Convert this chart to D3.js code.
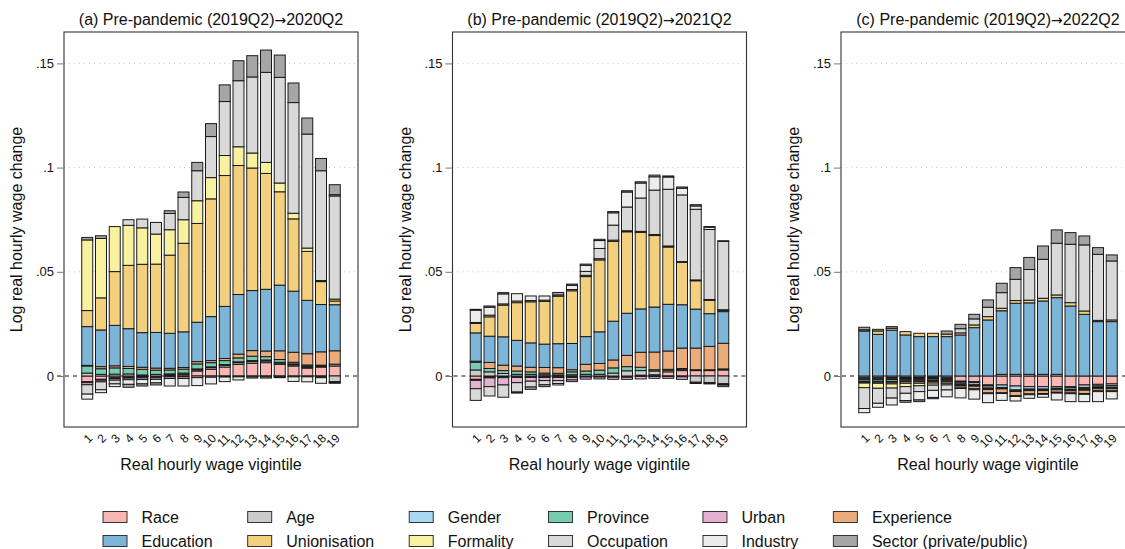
<!DOCTYPE html>
<html>
<head>
<meta charset="utf-8">
<script src="https://cdn.jsdelivr.net/npm/d3@7"></script>
<style>
  html, body { margin: 0; padding: 0; background: #fff; }
  svg { display: block; font-family: "Liberation Sans", Arial, Helvetica, sans-serif; }
</style>
</head>
<body>
<svg id="chart" width="1125" height="549"></svg>
<script>
// Vigintiles on the x axis
const vigintiles = d3.range(1, 20);
const yTicks = [0, 0.05, 0.1, 0.15];
const yTickLabels = ["0", ".05", ".1", ".15"];

// Panel titles: [label, start period, end period]
const panelTitles = [
  ["(a) Pre-pandemic (2019Q2)", "2020Q2"],
  ["(b) Pre-pandemic (2019Q2)", "2021Q2"],
  ["(c) Pre-pandemic (2019Q2)", "2022Q2"]
];

// Components of the decomposition, in stacking order
const components = ["Race", "Age", "Gender", "Province", "Urban", "Experience",
                    "Education", "Unionisation", "Formality", "Occupation", "Industry", "Sector (private/public)"];
const componentColors = ["#f9b6b3", "#cbcbcb", "#aad7f1", "#78cbae", "#e2b2d0", "#ebab7a",
                         "#7db5d8", "#f2d07e", "#f8f1a0", "#d9d9d9", "#ececec", "#a6a6a6"];
// Legend is laid out in columns of two
const legendOrder = ["Race", "Education", "Age", "Unionisation", "Gender", "Formality",
                     "Province", "Occupation", "Urban", "Industry", "Experience", "Sector (private/public)"];

// ---- (a) 2019Q2 -> 2020Q2 ----
const aRace       = [-0.0027,-0.0016,-0.0008,-0.0006,-0.0005,-0.0004,0.0005,0.0008,0.0024,0.0032,0.0043,0.0056,0.0061,0.0064,0.0056,0.0048,0.0038,0.0043,0.0048];
const aAge        = [0.0014,0.0008,0.0009,0.0010,0.0005,0.0008,0.0005,0.0006,0.0006,0.0008,0.0008,0.0008,0.0008,0.0008,0.0006,0.0006,0.0005,0.0005,-0.0027];
const aGender     = [-0.0005,-0.0004,-0.0004,-0.0004,-0.0004,-0.0004,-0.0004,-0.0004,0.0004,0.0004,0.0004,0.0004,0.0005,0.0005,0.0004,0.0004,0.0004,-0.0004,-0.0004];
const aProvince   = [0.0034,0.0027,0.0030,0.0026,0.0027,0.0020,0.0019,0.0019,0.0024,0.0020,0.0019,0.0019,0.0021,0.0016,0.0013,0.0008,0.0006,0.0004,0.0009];
const aUrban      = [-0.0010,-0.0008,-0.0008,-0.0008,-0.0008,-0.0008,-0.0008,-0.0008,-0.0008,-0.0006,-0.0005,-0.0004,-0.0004,-0.0004,-0.0004,-0.0004,-0.0004,-0.0004,-0.0004];
const aExperience = [0.0003,0.0010,0.0010,0.0010,0.0010,0.0010,0.0008,0.0008,0.0011,0.0010,0.0010,0.0018,0.0027,0.0027,0.0042,0.0048,0.0054,0.0064,0.0064];
const aEducation  = [0.0186,0.0176,0.0194,0.0181,0.0166,0.0171,0.0168,0.0171,0.0189,0.0211,0.0250,0.0286,0.0288,0.0296,0.0315,0.0293,0.0256,0.0227,0.0221];
const aUnion      = [0.0077,0.0154,0.0258,0.0304,0.0328,0.0328,0.0375,0.0425,0.0474,0.0565,0.0628,0.0619,0.0588,0.0556,0.0448,0.0347,0.0235,0.0110,0.0018];
const aFormality  = [0.0339,0.0285,0.0216,0.0192,0.0175,0.0144,0.0122,0.0113,0.0109,0.0102,0.0096,0.0090,0.0072,0.0053,0.0042,0.0027,0.0016,0.0005,0.0009];
const aOccupation = [-0.0045,-0.0038,-0.0018,0.0027,0.0042,0.0056,0.0078,0.0107,0.0144,0.0197,0.0259,0.0317,0.0365,0.0432,0.0507,0.0531,0.0547,0.0527,0.0495];
const aIndustry   = [-0.0024,-0.0014,-0.0013,-0.0022,-0.0021,-0.0017,-0.0036,-0.0036,-0.0038,-0.0032,-0.0022,-0.0015,-0.0006,-0.0006,-0.0004,-0.0022,-0.0024,-0.0027,0.0006];
const aSector     = [0.0012,0.0013,0.0000,-0.0014,-0.0010,-0.0010,0.0013,0.0026,0.0040,0.0062,0.0080,0.0096,0.0102,0.0107,0.0107,0.0094,0.0077,0.0059,0.0048];

// ---- (b) 2019Q2 -> 2021Q2 ----
const bRace       = [-0.0016,-0.0005,-0.0005,-0.0004,-0.0004,-0.0004,-0.0004,-0.0004,-0.0003,-0.0003,-0.0003,-0.0003,0.0004,0.0006,0.0020,0.0026,0.0026,0.0026,0.0029];
const bAge        = [0.0029,0.0020,0.0012,0.0008,0.0008,0.0006,0.0005,0.0006,0.0008,0.0008,0.0014,0.0025,0.0022,0.0018,0.0008,0.0006,-0.0030,-0.0032,-0.0037];
const bGender     = [-0.0005,-0.0004,-0.0003,-0.0003,-0.0003,-0.0003,-0.0003,-0.0003,-0.0002,-0.0002,-0.0003,-0.0003,-0.0002,-0.0002,-0.0002,-0.0004,-0.0002,-0.0002,-0.0003];
const bProvince   = [0.0037,0.0016,0.0014,0.0016,0.0012,0.0008,0.0008,0.0014,0.0016,0.0020,0.0025,0.0020,0.0016,0.0006,0.0004,0.0004,0.0004,0.0004,0.0005];
const bUrban      = [-0.0040,-0.0042,-0.0035,-0.0025,-0.0018,-0.0015,-0.0015,-0.0012,-0.0010,-0.0009,-0.0010,-0.0010,-0.0012,-0.0009,-0.0009,-0.0012,-0.0004,-0.0004,-0.0004];
const bExperience = [0.0005,0.0029,0.0026,0.0024,0.0022,0.0027,0.0027,0.0010,0.0032,0.0032,0.0038,0.0054,0.0072,0.0085,0.0088,0.0098,0.0104,0.0112,0.0123];
const bEducation  = [0.0136,0.0126,0.0136,0.0123,0.0117,0.0112,0.0115,0.0126,0.0133,0.0152,0.0186,0.0202,0.0208,0.0216,0.0224,0.0208,0.0187,0.0157,0.0152];
const bUnion      = [0.0045,0.0093,0.0152,0.0181,0.0197,0.0205,0.0228,0.0253,0.0288,0.0345,0.0383,0.0391,0.0367,0.0343,0.0275,0.0203,0.0136,0.0064,0.0006];
const bFormality  = [0.0005,0.0008,0.0006,0.0008,0.0006,0.0006,0.0006,0.0006,0.0006,0.0006,0.0006,0.0005,0.0005,0.0005,0.0005,0.0004,0.0004,0.0004,0.0003];
const bOccupation = [-0.0056,-0.0045,-0.0059,-0.0045,-0.0028,-0.0020,-0.0014,-0.0008,0.0019,0.0049,0.0072,0.0114,0.0160,0.0213,0.0272,0.0320,0.0339,0.0336,0.0328];
const bIndustry   = [0.0059,0.0038,0.0048,0.0035,0.0022,0.0020,-0.0007,0.0020,0.0029,0.0038,0.0059,0.0072,0.0072,0.0064,0.0059,0.0032,0.0016,0.0011,-0.0007];
const bSector     = [0.0004,0.0006,0.0006,-0.0005,-0.0011,-0.0009,0.0012,0.0006,0.0006,0.0006,0.0006,0.0006,0.0006,0.0008,0.0005,0.0006,0.0006,0.0003,0.0003];

// ---- (c) 2019Q2 -> 2022Q2 ----
const cRace       = [-0.0008,-0.0008,-0.0007,-0.0007,-0.0007,-0.0006,-0.0008,-0.0025,-0.0027,-0.0043,-0.0043,-0.0048,-0.0051,-0.0051,-0.0051,-0.0051,-0.0043,-0.0040,-0.0038];
const cAge        = [-0.0006,-0.0006,-0.0006,-0.0005,-0.0005,-0.0005,-0.0005,-0.0005,-0.0005,-0.0005,0.0008,0.0008,0.0008,0.0008,0.0008,-0.0005,-0.0012,-0.0008,-0.0008];
const cGender     = [-0.0004,-0.0004,-0.0004,-0.0004,-0.0004,-0.0004,-0.0004,-0.0008,-0.0010,-0.0010,-0.0012,-0.0019,-0.0012,-0.0012,-0.0008,-0.0008,-0.0006,-0.0006,-0.0008];
const cProvince   = [-0.0008,-0.0008,-0.0009,-0.0007,-0.0007,-0.0007,-0.0006,-0.0005,-0.0004,-0.0004,-0.0004,-0.0004,-0.0004,-0.0004,-0.0004,-0.0004,-0.0004,-0.0004,-0.0004];
const cUrban      = [-0.0003,-0.0003,-0.0004,-0.0004,-0.0004,-0.0004,-0.0004,-0.0003,-0.0003,-0.0003,-0.0003,-0.0003,-0.0003,-0.0003,-0.0003,-0.0003,-0.0003,-0.0003,-0.0003];
const cExperience = [-0.0005,-0.0006,-0.0008,-0.0008,-0.0008,-0.0008,-0.0008,-0.0008,-0.0012,-0.0016,-0.0018,-0.0020,-0.0016,-0.0014,-0.0012,-0.0010,-0.0016,-0.0010,-0.0010];
const cEducation  = [0.0216,0.0200,0.0220,0.0197,0.0189,0.0189,0.0189,0.0197,0.0232,0.0269,0.0305,0.0341,0.0343,0.0352,0.0368,0.0336,0.0296,0.0261,0.0261];
const cUnion      = [0.0006,0.0016,0.0009,0.0016,0.0016,0.0016,0.0012,0.0010,0.0013,0.0016,0.0012,0.0013,0.0013,0.0013,0.0013,0.0016,0.0016,0.0006,0.0008];
const cFormality  = [-0.0022,-0.0024,-0.0020,-0.0016,-0.0012,-0.0010,-0.0008,-0.0006,-0.0005,-0.0004,-0.0004,-0.0004,-0.0004,-0.0004,-0.0004,-0.0004,-0.0004,-0.0004,-0.0004];
const cOccupation = [-0.0100,-0.0072,-0.0048,-0.0032,-0.0028,-0.0025,-0.0024,0.0020,0.0029,0.0045,0.0075,0.0102,0.0147,0.0187,0.0248,0.0280,0.0317,0.0317,0.0283];
const cIndustry   = [-0.0020,-0.0019,-0.0033,-0.0035,-0.0040,-0.0034,-0.0033,-0.0045,-0.0045,-0.0043,-0.0033,-0.0022,-0.0017,-0.0014,-0.0033,-0.0038,-0.0035,-0.0048,-0.0035];
const cSector     = [0.0012,0.0008,0.0008,-0.0008,-0.0008,-0.0006,0.0015,0.0021,0.0022,0.0035,0.0045,0.0056,0.0058,0.0064,0.0064,0.0056,0.0043,0.0032,0.0029];

const panelSeries = [
  [aRace, aAge, aGender, aProvince, aUrban, aExperience, aEducation, aUnion, aFormality, aOccupation, aIndustry, aSector],
  [bRace, bAge, bGender, bProvince, bUrban, bExperience, bEducation, bUnion, bFormality, bOccupation, bIndustry, bSector],
  [cRace, cAge, cGender, cProvince, cUrban, cExperience, cEducation, cUnion, cFormality, cOccupation, cIndustry, cSector]
];

// ---- layout ----
const svg = d3.select("#chart");
const panelLeft = [64, 452.5, 841];
const panelWidth = 294;
const plotTop = 32, plotBottom = 427;
const font = 16;

const y = d3.scaleLinear().domain([-0.02447, 0.16507]).range([plotBottom, plotTop]);
const color = d3.scaleOrdinal().domain(components).range(componentColors);

// Positive contributions stack upward from zero, negative ones downward
function stackBars(seriesList) {
  const segs = [];
  vigintiles.forEach((v, i) => {
    let pos = 0, neg = 0;
    seriesList.forEach((s, k) => {
      const val = s[i];
      if (val >= 0) { segs.push({ v, key: components[k], y0: pos, y1: pos + val }); pos += val; }
      else          { segs.push({ v, key: components[k], y0: neg + val, y1: neg }); neg += val; }
    });
  });
  return segs;
}

panelSeries.forEach((seriesList, p) => {
  const x0 = panelLeft[p];
  const x = d3.scaleBand().domain(vigintiles).range([x0, x0 + panelWidth])
              .paddingInner(0.2).paddingOuter(1.29);
  const g = svg.append("g");

  // gridlines
  g.selectAll("line.grid").data(yTicks.filter(t => t > 0)).join("line")
    .attr("x1", x0).attr("x2", x0 + panelWidth)
    .attr("y1", d => y(d)).attr("y2", d => y(d))
    .attr("stroke", "#c8c8c8").attr("stroke-width", 1).attr("stroke-dasharray", "1,4");

  // zero reference line
  g.append("line")
    .attr("x1", x0 - 7).attr("x2", x0 + panelWidth)
    .attr("y1", y(0)).attr("y2", y(0))
    .attr("stroke", "#111").attr("stroke-width", 1).attr("stroke-dasharray", "4,4");

  // bars
  g.selectAll("rect.seg").data(stackBars(seriesList)).join("rect")
    .attr("x", d => x(d.v))
    .attr("width", x.bandwidth())
    .attr("y", d => y(d.y1))
    .attr("height", d => Math.max(0, y(d.y0) - y(d.y1)))
    .attr("fill", d => color(d.key))
    .attr("stroke", "#1a1a1a").attr("stroke-width", 1);

  // frame
  g.append("rect").attr("x", x0).attr("y", plotTop)
    .attr("width", panelWidth).attr("height", plotBottom - plotTop)
    .attr("fill", "none").attr("stroke", "#333").attr("stroke-width", 1.1);

  // y axis
  const yAxis = d3.axisLeft(y).tickValues(yTicks).tickSize(7).tickPadding(3)
    .tickFormat((d, i) => yTickLabels[i]);
  const ya = g.append("g").attr("transform", `translate(${x0},0)`).call(yAxis);
  ya.select(".domain").remove();
  ya.selectAll(".tick line").attr("stroke", "#777");
  ya.selectAll(".tick text").attr("font-size", 13).attr("font-family", null).attr("fill", "#111");

  // x tick labels (angled)
  g.selectAll("text.xt").data(vigintiles).join("text")
    .attr("transform", d => `translate(${x(d) + x.bandwidth() / 2 + 3},${plotBottom + 9}) rotate(-45)`)
    .attr("text-anchor", "end").attr("dy", "0.35em")
    .attr("font-size", 12).attr("fill", "#111")
    .text(d => d);

  // axis titles
  g.append("text")
    .attr("x", x0 + panelWidth / 2).attr("y", 470)
    .attr("text-anchor", "middle").attr("font-size", font).attr("fill", "#111")
    .text("Real hourly wage vigintile");
  g.append("text")
    .attr("transform", `translate(${x0 - 42},${(plotTop + plotBottom) / 2}) rotate(-90)`)
    .attr("text-anchor", "middle").attr("font-size", font).attr("fill", "#111")
    .text("Log real hourly wage change");

  // panel title, arrow set in a font with a full-size arrow glyph
  const title = g.append("text")
    .attr("x", x0 + panelWidth / 2).attr("y", 25)
    .attr("text-anchor", "middle").attr("font-size", font).attr("fill", "#111");
  title.append("tspan").text(panelTitles[p][0]);
  title.append("tspan").attr("font-family", "DejaVu Sans").attr("font-size", 14).text("\u2192");
  title.append("tspan").text(panelTitles[p][1]);
});

// ---- legend: 6 columns x 2 rows, column width follows the longest label ----
const legend = svg.append("g");
const rowBaseline = [523, 547];
let colX = 103;
for (let c = 0; c < 6; c++) {
  let maxW = 0;
  for (let r = 0; r < 2; r++) {
    const name = legendOrder[c * 2 + r];
    legend.append("rect")
      .attr("x", colX).attr("y", rowBaseline[r] - 11.5)
      .attr("width", 24).attr("height", 11)
      .attr("fill", color(name)).attr("stroke", "#333").attr("stroke-width", 1);
    const t = legend.append("text")
      .attr("x", colX + 38.5).attr("y", rowBaseline[r])
      .attr("font-size", font).attr("fill", "#111")
      .text(name);
    maxW = Math.max(maxW, t.node().getComputedTextLength());
  }
  colX += 38.5 + maxW + 35;
}
</script>
</body>
</html>
